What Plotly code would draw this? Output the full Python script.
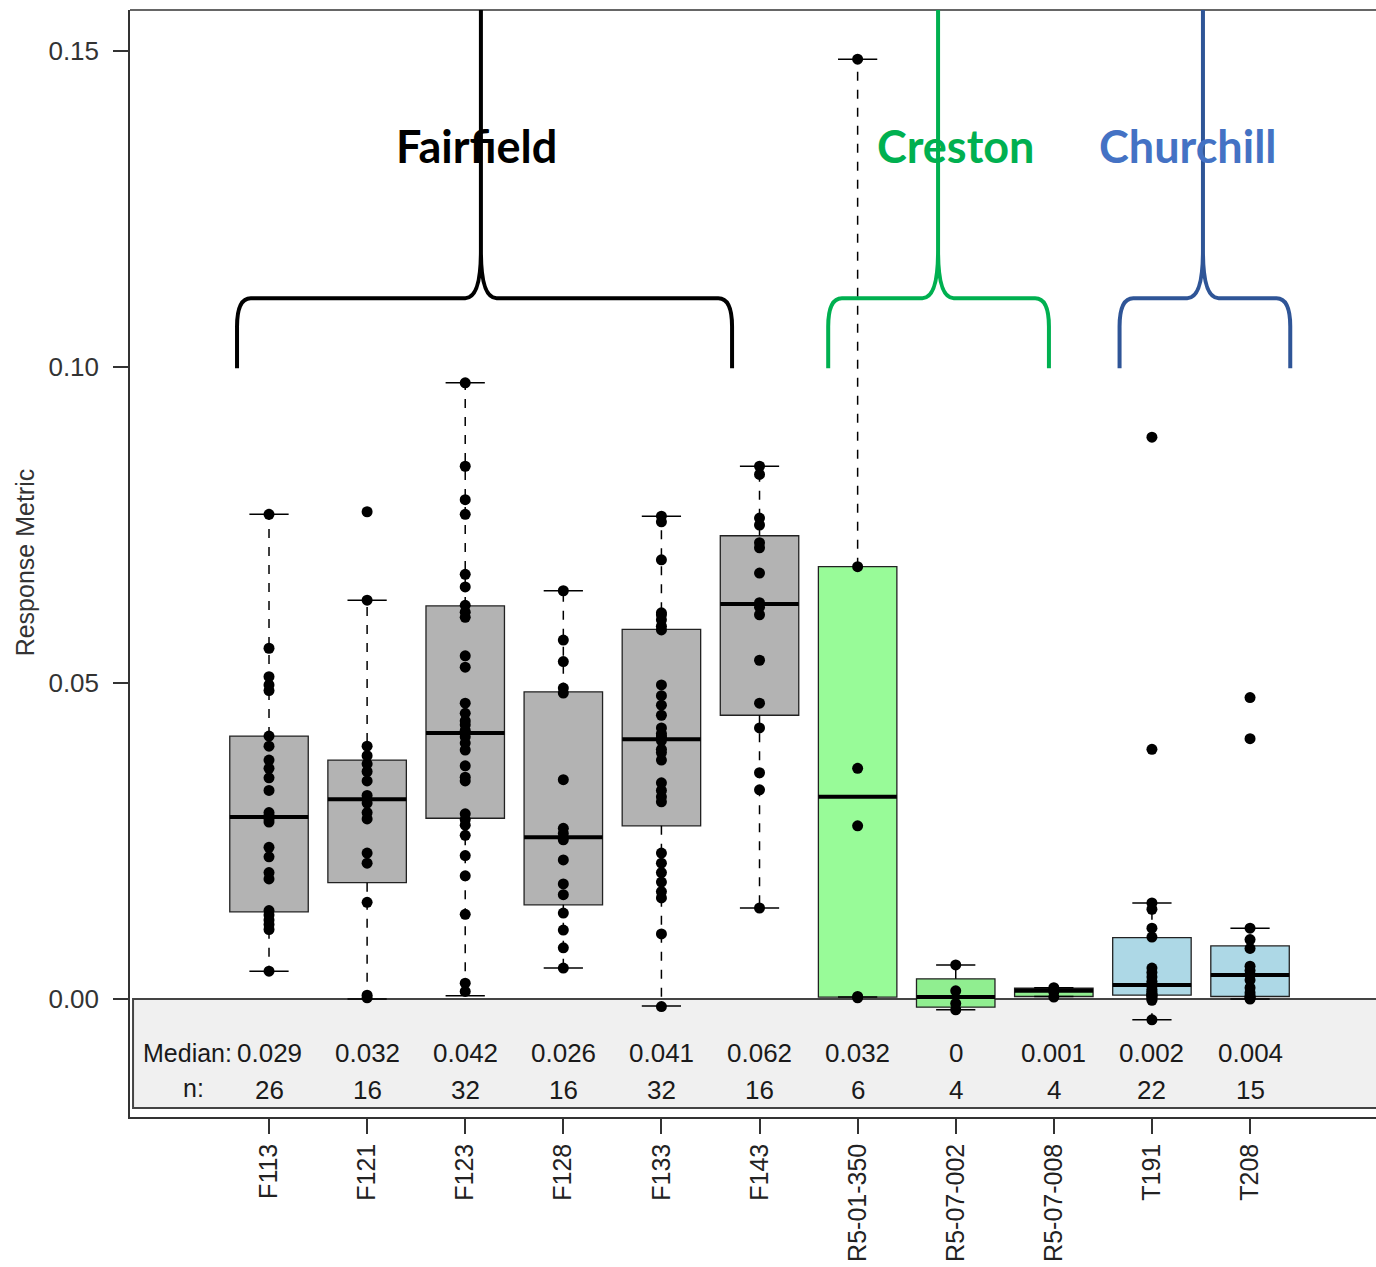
import plotly.graph_objects as go

categories = ["F113", "F121", "F123", "F128", "F133", "F143",
              "R5-01-350", "R5-07-002", "R5-07-008", "T191", "T208"]

# Box statistics
q1 = [0.0138, 0.0184, 0.0286, 0.0149, 0.0274, 0.0449, 0.0003, -0.0013, 0.0004, 0.0006, 0.0004]
median = [0.0288, 0.0316, 0.0421, 0.0256, 0.0411, 0.0625, 0.0320, 0.0003, 0.0013, 0.0022, 0.0038]
q3 = [0.0416, 0.0378, 0.0622, 0.0486, 0.0585, 0.0733, 0.0684, 0.0032, 0.0017, 0.0097, 0.0084]
whisk_lo = [0.0044, 0.0000, 0.0005, 0.0049, -0.0011, 0.0144, 0.0003, -0.0017, 0.0004, -0.0033, 0.0000]
whisk_hi = [0.0767, 0.0631, 0.0975, 0.0646, 0.0764, 0.0843, 0.1487, 0.0054, 0.0018, 0.0152, 0.0112]
median_labels = ["0.029", "0.032", "0.042", "0.026", "0.041", "0.062", "0.032", "0", "0.001", "0.002", "0.004"]

# Individual observations
pts_F113 = [0.0767, 0.0555, 0.0510, 0.0497, 0.0488, 0.0416, 0.0400, 0.0378, 0.0365, 0.0350, 0.0330,
            0.0295, 0.0290, 0.0288, 0.0285, 0.0280, 0.0240, 0.0225, 0.0200, 0.0190, 0.0140, 0.0133,
            0.0125, 0.0118, 0.0110, 0.0044]
pts_F121 = [0.0771, 0.0631, 0.0400, 0.0385, 0.0372, 0.0360, 0.0345, 0.0322, 0.0310, 0.0295, 0.0285,
            0.0231, 0.0215, 0.0153, 0.0006, 0.0002]
pts_F123 = [0.0975, 0.0843, 0.0790, 0.0767, 0.0672, 0.0652, 0.0623, 0.0612, 0.0604, 0.0543, 0.0525,
            0.0468, 0.0452, 0.0440, 0.0434, 0.0425, 0.0421, 0.0415, 0.0405, 0.0394, 0.0369, 0.0351,
            0.0345, 0.0293, 0.0284, 0.0275, 0.0259, 0.0227, 0.0195, 0.0134, 0.0025, 0.0012]
pts_F128 = [0.0646, 0.0568, 0.0534, 0.0492, 0.0484, 0.0347, 0.0270, 0.0262, 0.0252, 0.0220, 0.0182,
            0.0165, 0.0136, 0.0109, 0.0081, 0.0049]
pts_F133 = [0.0764, 0.0755, 0.0695, 0.0611, 0.0608, 0.0600, 0.0590, 0.0584, 0.0497, 0.0480, 0.0465,
            0.0449, 0.0429, 0.0420, 0.0416, 0.0413, 0.0409, 0.0395, 0.0390, 0.0378, 0.0342, 0.0330,
            0.0320, 0.0312, 0.0231, 0.0215, 0.0200, 0.0185, 0.0170, 0.0160, 0.0103, -0.0012]
pts_F143 = [0.0843, 0.0830, 0.0761, 0.0750, 0.0722, 0.0714, 0.0674, 0.0627, 0.0620, 0.0608, 0.0536,
            0.0468, 0.0429, 0.0358, 0.0331, 0.0144]
pts_R5_01_350 = [0.1487, 0.0684, 0.0365, 0.0274, 0.0004, 0.0002]
pts_R5_07_002 = [0.0054, 0.0013, -0.0007, -0.0017]
pts_R5_07_008 = [0.0018, 0.0015, 0.0011, 0.0003]
pts_T191 = [0.0889, 0.0395, 0.0152, 0.0142, 0.0112, 0.0098, 0.0049, 0.0042, 0.0035, 0.0028, 0.0024,
            0.0020, 0.0015, 0.0012, 0.0009, 0.0007, 0.0006, 0.0005, 0.0003, 0.0001, -0.0002, -0.0033]
pts_T208 = [0.0477, 0.0412, 0.0112, 0.0094, 0.0080, 0.0052, 0.0045, 0.0038, 0.0030, 0.0018, 0.0010,
            0.0005, 0.0003, 0.0001, 0.0000]

points = [pts_F113, pts_F121, pts_F123, pts_F128, pts_F133, pts_F143,
          pts_R5_01_350, pts_R5_07_002, pts_R5_07_008, pts_T191, pts_T208]

box_colors = ["#B3B3B3"] * 6 + ["#98FB98", "#90EE90", "#90EE90", "#ADD8E6", "#ADD8E6"]

# Group brackets (data units): left, right, centre, label x, colour, text colour
groups = [
    dict(name="Fairfield", left=0.674, right=5.72, center=3.16, label_x=3.11, color="#000000", text="#000000"),
    dict(name="Creston", left=6.70, right=8.95, center=7.82, label_x=8.00, color="#00B050", text="#00B050"),
    dict(name="Churchill", left=9.67, right=11.41, center=10.52, label_x=10.37, color="#2F5597", text="#4472C4"),
]

FONT = "Liberation Sans, Arial, sans-serif"
xs = list(range(1, len(categories) + 1))
BOXW = 0.8
CAPW = 0.2

fig = go.Figure()

# dashed whiskers
wx, wy = [], []
for i, x in enumerate(xs):
    wx += [x, x, None, x, x, None]
    wy += [q3[i], whisk_hi[i], None, q1[i], whisk_lo[i], None]
fig.add_trace(go.Scatter(x=wx, y=wy, mode="lines",
                         line=dict(color="black", width=1.5, dash="dash"), hoverinfo="skip"))

# boxes
fig.add_trace(go.Bar(x=xs, y=[q3[i] - q1[i] for i in range(len(xs))], base=q1, width=BOXW,
                     marker=dict(color=box_colors, line=dict(color="#222222", width=1.3))))

# caps
cx, cy = [], []
for i, x in enumerate(xs):
    cx += [x - CAPW, x + CAPW, None, x - CAPW, x + CAPW, None]
    cy += [whisk_hi[i], whisk_hi[i], None, whisk_lo[i], whisk_lo[i], None]
fig.add_trace(go.Scatter(x=cx, y=cy, mode="lines", line=dict(color="black", width=1.5), hoverinfo="skip"))

# medians
mx, my = [], []
for i, x in enumerate(xs):
    mx += [x - BOXW / 2, x + BOXW / 2, None]
    my += [median[i], median[i], None]
fig.add_trace(go.Scatter(x=mx, y=my, mode="lines", line=dict(color="black", width=4), hoverinfo="skip"))

# points
px_, py_ = [], []
for i, x in enumerate(xs):
    px_ += [x] * len(points[i])
    py_ += points[i]
fig.add_trace(go.Scatter(x=px_, y=py_, mode="markers", marker=dict(color="black", size=11)))

shapes = []
# grey summary band
shapes.append(dict(type="rect", xref="x", yref="y", x0=-0.386, x1=13, y0=0, y1=-0.01725,
                   fillcolor="#F0F0F0", line=dict(color="#444444", width=2), layer="below"))
# top frame line
shapes.append(dict(type="line", xref="paper", yref="paper", x0=0, x1=1, y0=1, y1=1,
                   line=dict(color="#333333", width=1.5)))

# brackets
yb, yh, ytop = 0.0998, 0.1109, 0.17
dxe, dye = 0.14, 0.0045
dxc, dyc = 0.16, 0.0075
for g in groups:
    L, R, C = g["left"], g["right"], g["center"]
    path = (f"M {L},{yb} L {L},{yh - dye} Q {L},{yh} {L + dxe},{yh} "
            f"L {C - dxc},{yh} Q {C},{yh} {C},{yh + dyc} L {C},{ytop} "
            f"M {R},{yb} L {R},{yh - dye} Q {R},{yh} {R - dxe},{yh} "
            f"L {C + dxc},{yh} Q {C},{yh} {C},{yh + dyc}")
    shapes.append(dict(type="path", xref="x", yref="y", path=path,
                       line=dict(color=g["color"], width=4)))

annotations = []
for g in groups:
    annotations.append(dict(x=g["label_x"], y=0.135, xref="x", yref="y", text=g["name"],
                            showarrow=False, font=dict(family="Lato, Open Sans, sans-serif",
                                                       size=45, color=g["text"], weight="bold")))

ROW_MED, ROW_N = -0.00854, -0.0144
for i, x in enumerate(xs):
    annotations.append(dict(x=x, y=ROW_MED, xref="x", yref="y", text=median_labels[i],
                            showarrow=False, font=dict(family=FONT, size=26, color="#1a1a1a")))
    annotations.append(dict(x=x, y=ROW_N, xref="x", yref="y", text=str(len(points[i])),
                            showarrow=False, font=dict(family=FONT, size=26, color="#1a1a1a")))
annotations.append(dict(x=0.64, y=ROW_MED, xref="x", yref="y", text="Median:", xanchor="right",
                        showarrow=False, font=dict(family=FONT, size=25, color="#1a1a1a")))
annotations.append(dict(x=0.36, y=ROW_N + 0.0003, xref="x", yref="y", text="n:", xanchor="right",
                        showarrow=False, font=dict(family=FONT, size=25, color="#1a1a1a")))
annotations.append(dict(x=-0.0843, y=0.501, xref="paper", yref="paper", text="Response Metric",
                        textangle=-90, showarrow=False, xanchor="center", yanchor="middle",
                        font=dict(family=FONT, size=25, color="#333333")))

fig.update_layout(
    width=1376, height=1267,
    margin=dict(l=130, r=0, t=10, b=150, autoexpand=False),
    plot_bgcolor="white", paper_bgcolor="white",
    showlegend=False,
    shapes=shapes, annotations=annotations,
    xaxis=dict(range=[-0.417, 12.284], tickvals=xs, ticktext=categories, tickangle=-90,
               ticks="outside", ticklen=15, tickwidth=1.5, tickcolor="#333333",
               showline=True, linecolor="#333333", linewidth=1.5, automargin=False,
               showgrid=False, zeroline=False, ticklabelstandoff=0,
               tickfont=dict(family=FONT, size=25, color="#222222")),
    yaxis=dict(range=[-0.01867, 0.15649], tickvals=[0, 0.05, 0.10, 0.15],
               ticktext=["0.00", "0.05", "0.10", "0.15"], automargin=False,
               ticks="outside", ticklen=15, tickwidth=1.5, tickcolor="#333333",
               showline=True, linecolor="#333333", linewidth=1.5,
               showgrid=False, zeroline=False, ticklabelstandoff=9,
               tickfont=dict(family=FONT, size=26, color="#333333")),
)

# remove the default page margin so the 1376x1267 figure fills the window exactly
fig.write_html("out.html", config={"displayModeBar": False},
               post_script="document.body.style.margin='0';document.body.style.overflow='hidden';")
